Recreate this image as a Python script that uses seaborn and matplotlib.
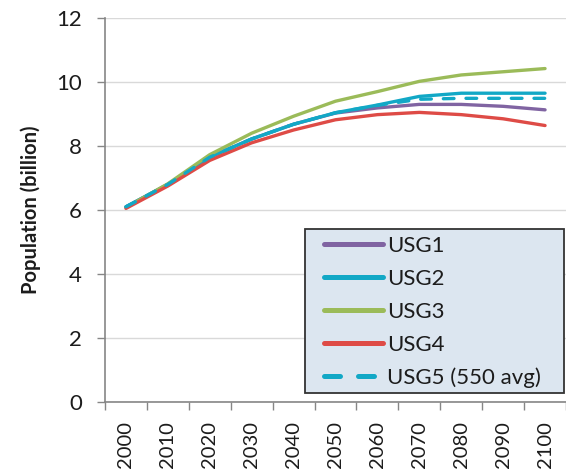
import numpy as np
import pandas as pd
import seaborn as sns
import matplotlib
matplotlib.use("Agg")
import matplotlib.pyplot as plt
from matplotlib.ticker import FixedLocator
from matplotlib.patches import Rectangle

years = ["2000", "2010", "2020", "2030", "2040", "2050", "2060", "2070", "2080", "2090", "2100"]
usg1 = [6.10, 6.80, 7.65, 8.22, 8.68, 9.03, 9.19, 9.30, 9.30, 9.24, 9.13]
usg2 = [6.10, 6.80, 7.65, 8.22, 8.68, 9.04, 9.28, 9.55, 9.65, 9.65, 9.65]
usg3 = [6.08, 6.82, 7.73, 8.40, 8.93, 9.40, 9.70, 10.02, 10.22, 10.32, 10.42]
usg4 = [6.05, 6.75, 7.55, 8.10, 8.50, 8.82, 8.98, 9.05, 8.98, 8.85, 8.64]
usg5 = [6.10, 6.80, 7.65, 8.22, 8.68, 9.04, 9.27, 9.46, 9.49, 9.49, 9.49]
series_names = ["USG1", "USG2", "USG3", "USG4", "USG5 (550 avg)"]
series_vals = [usg1, usg2, usg3, usg4, usg5]
colors = ["#8064A2", "#12A8C6", "#9BBB59", "#DE4B46", "#12A8C6"]

rows = []
for name, vals in zip(series_names, series_vals):
    for i, v in enumerate(vals):
        rows.append({"idx": i, "Population": v, "Scenario": name})
df = pd.DataFrame(rows)

sns.set_theme(style="white")
plt.rcParams["font.family"] = ["Lato", "DejaVu Sans"]

W, H = 566, 472
fig = plt.figure(figsize=(W / 100, H / 100), dpi=100)
ax = fig.add_axes([105 / W, 1 - 402 / H, 1 - 105 / W, (402 - 18) / H])

palette = dict(zip(series_names, colors))
dashes = {n: "" for n in series_names}
dashes["USG5 (550 avg)"] = (3.2, 3.6)
sns.lineplot(data=df, x="idx", y="Population", hue="Scenario", style="Scenario",
             palette=palette, dashes=dashes, linewidth=2.4, ax=ax,
             hue_order=series_names, style_order=series_names)
for ln in ax.get_lines():
    ln.set_solid_capstyle("round")
    ln.set_dash_capstyle("round")

tc = "#1c1c1c"
ax.set_xlim(-0.5, 10.5)
ax.set_ylim(0, 12)
ax.set_yticks([0, 2, 4, 6, 8, 10, 12])
ax.set_xticks(range(len(years)))
ax.set_xticklabels(years, rotation=90)
ax.xaxis.set_minor_locator(FixedLocator(np.arange(-0.5, 11, 1.0)))
ax.tick_params(axis="x", which="major", length=0, pad=14, labelsize=14.5, labelcolor=tc)
ax.tick_params(axis="x", which="minor", length=6, width=1, color="#868686", bottom=True)
ax.tick_params(axis="y", length=6, width=1, color="#868686", left=True, labelsize=16,
               labelcolor=tc, pad=10.5)
ax.yaxis.grid(True, color="#d9d9d9", linewidth=1)
ax.set_axisbelow(True)
for s in ["top", "right"]:
    ax.spines[s].set_visible(False)
for s in ["left", "bottom"]:
    ax.spines[s].set_color("#868686")
    ax.spines[s].set_linewidth(1.2)

ax.set_xlabel("")
ax.set_ylabel("Population (billion)", fontsize=14.5, fontweight="bold", color=tc, labelpad=11)

# legend frame (Excel-style box)
box = Rectangle((305 / W, 1 - 393 / H), (564 - 305) / W, (393 - 229) / H,
                transform=fig.transFigure, facecolor="#DCE6F0", edgecolor="#333333",
                linewidth=1.3, zorder=4, clip_on=False)
ax.add_patch(box)

leg = ax.legend(loc="upper left", bbox_to_anchor=(324 / W, 1 - 236 / H),
                bbox_transform=fig.transFigure, borderaxespad=0, borderpad=0, fontsize=16,
                handlelength=2.66, handletextpad=0.18, labelspacing=0.58,
                frameon=False, title=None)
leg.set_zorder(5)
for ln in leg.get_lines():
    ln.set_linewidth(3.6)
    ln.set_solid_capstyle("round")
    ln.set_dash_capstyle("round")
for t in leg.get_texts():
    t.set_color(tc)

fig.savefig("out.png", dpi=100)
